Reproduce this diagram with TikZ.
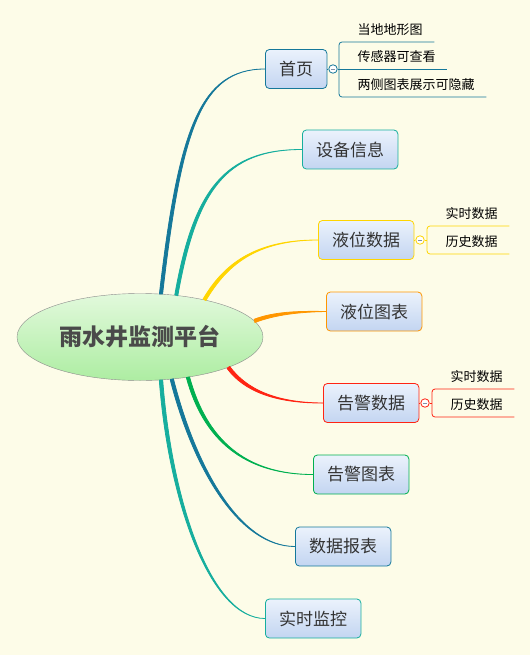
\documentclass[tikz,border=0pt]{standalone}
\usepackage{fontspec}
\newfontfamily\cjk{Noto Sans CJK SC}
\usetikzlibrary{shapes.geometric,calc}

\definecolor{paper}{HTML}{FDFCE8}
\definecolor{xmblue}{HTML}{15789A}
\definecolor{xmteal}{HTML}{16AE9E}
\definecolor{xmyellow}{HTML}{FFD500}
\definecolor{xmorange}{HTML}{FF9600}
\definecolor{xmred}{HTML}{FF2413}
\definecolor{xmgreen}{HTML}{00B050}
\definecolor{boxtop}{HTML}{EBF2FC}
\definecolor{boxbot}{HTML}{C3D5F1}
\definecolor{hubtop}{HTML}{E2F9DC}
\definecolor{hubbot}{HTML}{ADEDA2}
\definecolor{hubline}{HTML}{8C8C8C}
\definecolor{ink}{HTML}{333333}
\definecolor{hubink}{HTML}{4A4A4A}
\definecolor{minusgray}{HTML}{8090A8}

% tapered branch: root, control 1, control 2, target node, colour, half width
\newcommand\branch[6]{%
  \filldraw[#5,line width=.8pt,line join=round]
    ($(#1)-(#6)$) .. controls ($(#2)-(#6)$) and ($(#3)-0.3*(#6)$) .. (#4.west)
    .. controls ($(#3)+0.3*(#6)$) and ($(#2)+(#6)$) .. ($(#1)+(#6)$) -- cycle;}

\begin{document}
\begin{tikzpicture}[x=1pt,y=-1pt,
  hub/.style={ellipse,draw=hubline,top color=hubtop,bottom color=hubbot,minimum width=246pt,minimum height=87pt,inner sep=0pt,font=\cjk\bfseries\fontsize{23}{26}\selectfont,text=hubink},
  topic/.style={draw=#1,anchor=west,rounded corners=4pt,top color=boxtop,bottom color=boxbot,minimum height=39pt,inner xsep=13.75pt,line width=.8pt,font=\cjk\fontsize{17}{19}\selectfont,text=ink},
  leaf/.style={anchor=south west,inner xsep=11.5pt,inner ysep=7pt,text depth=0pt,font=\cjk\fontsize{13}{15}\selectfont,text=black},
  collapse/.style={circle,draw=#1,fill=white,minimum size=8.5pt,inner sep=0pt,line width=.8pt,
    path picture={\draw[minusgray,line width=.8pt] ([xshift=-2.2pt]path picture bounding box.center) -- ([xshift=2.2pt]path picture bounding box.center);}}]
\fill[paper] (0,0) rectangle (530,655);

\node[hub] (hub) at (140,337) {雨水井监测平台};

\foreach \i/\x/\y/\c/\t in {1/265/69/xmblue/首页,2/302/149.5/xmteal/设备信息,3/318/240/xmyellow/液位数据,4/326/311.5/xmorange/液位图表,5/323/403/xmred/告警数据,6/313/474.5/xmgreen/告警图表,7/295/546.5/xmblue/数据报表,8/265/618.5/xmteal/实时监控} {
  \node[topic=\c] (n\i) at (\x,\y) {\t};
}

\foreach \i/\a/\p/\q/\c/\s in {1/64/{180,130}/{200,69}/xmblue/{1.6,0},2/49/{195,190}/{225,149.5}/xmteal/{1.5,.45},3/30/{225,265}/{255,240}/xmyellow/{1.4,.75},4/8/{275,313}/{300,311.5}/xmorange/{.45,1.6},5/-19/{245,390}/{275,403}/xmred/{1.3,-1},6/-40/{205,440}/{245,474.5}/xmgreen/{1.6,-.35},7/-53/{195,470}/{240,546.5}/xmblue/{1.6,-.4},8/-64/{170,500}/{210,618.5}/xmteal/{1.7,-.1}} {
  \branch{hub.\a}{\p}{\q}{n\i}{\c}{\s}
}

% 首页
\node[collapse=xmblue] (hc) at (333,69) {};
\node[leaf] (h1) at (346,42) {当地地形图};
\node[leaf] (h2) at (346,69) {传感器可查看};
\node[leaf] (h3) at (346,97) {两侧图表展示可隐藏};
\draw[xmblue,line width=.8pt] (n1) -- (hc);
\draw[xmblue,line width=.8pt] (hc) -- (h2.south east);
\draw[xmblue,line width=.8pt,rounded corners=3pt] (h1.south east) -- ([xshift=-7pt]h1.south west) |- (h3.south east);

% 液位数据
\node[collapse=xmyellow] (yc) at (420,240) {};
\node[leaf] (y1) at (434,226) {实时数据};
\node[leaf] (y2) at (434,254) {历史数据};
\draw[xmyellow,line width=.8pt] (n3) -- (yc);
\draw[xmyellow,line width=.8pt] (yc) -- ++(7,0);
\draw[xmyellow,line width=.8pt,rounded corners=3pt] (y1.south east) -- ([xshift=-7pt]y1.south west) |- (y2.south east);

% 告警数据
\node[collapse=xmred] (ac) at (425,403) {};
\node[leaf] (a1) at (439,389) {实时数据};
\node[leaf] (a2) at (439,417) {历史数据};
\draw[xmred,line width=.8pt] (n5) -- (ac);
\draw[xmred,line width=.8pt] (ac) -- ++(7,0);
\draw[xmred,line width=.8pt,rounded corners=3pt] (a1.south east) -- ([xshift=-7pt]a1.south west) |- (a2.south east);
\end{tikzpicture}
\end{document}
